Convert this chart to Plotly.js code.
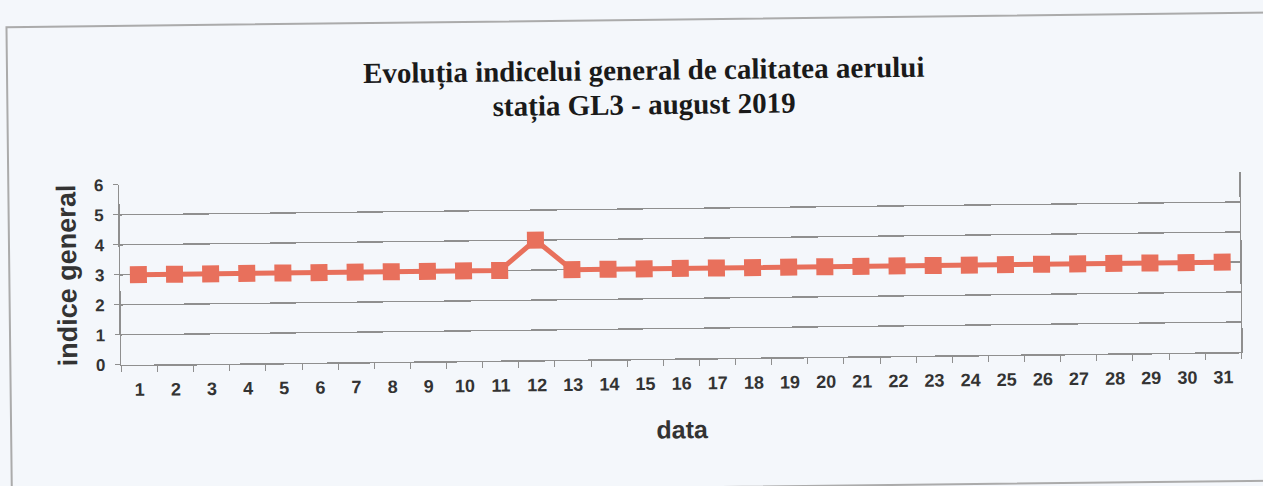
<!DOCTYPE html>
<html>
<head>
<meta charset="utf-8">
<script src="https://cdn.plot.ly/plotly-3.0.1.min.js"></script>
<style>
  html, body { margin: 0; padding: 0; background: #F4F7FB; overflow: hidden; }
  #wrap { position: absolute; left: 0; top: 0; width: 1263px; height: 486px;
          transform: rotate(-0.66deg); transform-origin: 631px 243px; }
  #frame { position: absolute; left: 8px; top: 19px; width: 1320px; height: 470px;
           border: 2px solid #ababab; box-sizing: border-box; }
  #chart { position: absolute; left: 0; top: 0; width: 1263px; height: 486px; }
</style>
</head>
<body>
<div id="wrap">
  <div id="frame"></div>
  <div id="chart"></div>
</div>
<script>
// Data
const days = ['1','2','3','4','5','6','7','8','9','10','11','12','13','14','15','16',
              '17','18','19','20','21','22','23','24','25','26','27','28','29','30','31'];
const indexValues = [3,3,3,3,3,3,3,3,3,3,3,4,3,3,3,3,3,3,3,3,3,3,3,3,3,3,3,3,3,3,3];
const yTicks = [0,1,2,3,4,5,6];
const titleLine1 = 'Evoluția indicelui general de calitatea aerului';
const titleLine2 = 'stația GL3 - august 2019';
const xTitle = 'data';
const yTitle = 'indice general';

const lineColor = '#E8705C';
const gridColor = '#8f8f8f';

const trace = {
  x: days,
  y: indexValues,
  type: 'scatter',
  mode: 'lines+markers',
  line: { color: lineColor, width: 5 },
  marker: { symbol: 'square', size: 17, color: lineColor },
  hoverinfo: 'x+y'
};

const big = (s) => '<span style="font-size:29px"><b>' + s + '</b></span>';

const layout = {
  width: 1263,
  height: 486,
  paper_bgcolor: 'rgba(0,0,0,0)',
  plot_bgcolor: 'rgba(0,0,0,0)',
  margin: { l: 120, r: 23, t: 179, b: 127 },
  showlegend: false,
  xaxis: {
    type: 'category',
    range: [-0.5, days.length - 0.5],
    autorange: false,
    tickson: 'boundaries',
    ticks: 'outside',
    ticklen: 6,
    tickcolor: gridColor,
    showgrid: false,
    showline: true,
    linecolor: gridColor,
    linewidth: 1.5,
    ticklabelstandoff: 8,
    tickfont: { family: 'Liberation Sans, Arial, sans-serif', size: 18, color: '#333333', weight: 'bold' },
    title: { text: xTitle, standoff: 28,
             font: { family: 'Liberation Sans, Arial, sans-serif', size: 25, color: '#333333', weight: 'bold' } }
  },
  yaxis: {
    range: [0, 6],
    autorange: false,
    tickvals: yTicks,
    ticks: 'outside',
    ticklen: 5,
    tickcolor: gridColor,
    showgrid: true,
    gridcolor: gridColor,
    gridwidth: 1.3,
    zeroline: false,
    showline: true,
    mirror: true,
    linecolor: gridColor,
    linewidth: 1.5,
    ticklabelstandoff: 6,
    tickfont: { family: 'Liberation Sans, Arial, sans-serif', size: 17, color: '#333333', weight: 'bold' },
    title: { text: yTitle, standoff: 10,
             font: { family: 'Liberation Sans, Arial, sans-serif', size: 27, color: '#333333', weight: 'bold' } }
  },
  annotations: [
    { text: big(titleLine1) + '<br>' + big(titleLine2), xref: 'paper', yref: 'paper',
      x: (645 - 120) / 1120, xanchor: 'center',
      y: (359 - 88) / 180, yanchor: 'middle', showarrow: false, align: 'center',
      font: { family: 'Liberation Serif, Times New Roman, serif', size: 26.5, color: '#1a1a1a' } }
  ]
};

Plotly.newPlot('chart', [trace], layout, { displayModeBar: false, staticPlot: true });
</script>
</body>
</html>
